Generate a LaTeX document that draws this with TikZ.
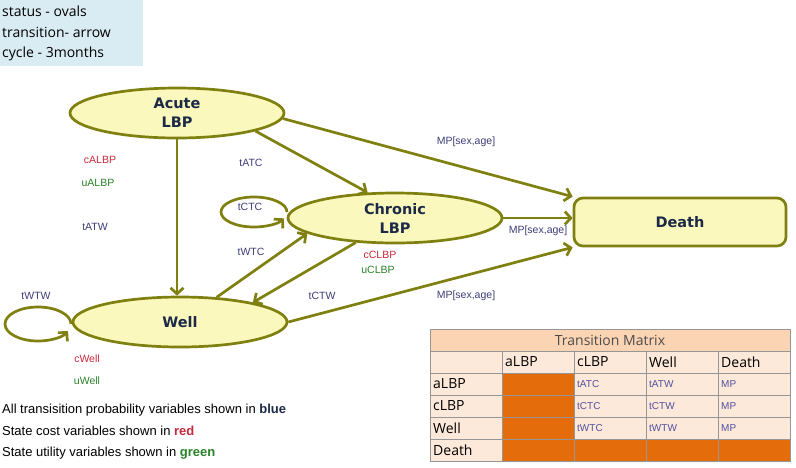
\documentclass[tikz,border=0pt]{standalone}
\usepackage{fontspec}
\setmainfont{Liberation Sans}
\newfontfamily\kfont{Open Sans}
\newfontfamily\hvfont{DejaVu Sans}
\usetikzlibrary{shapes.geometric,arrows.meta}
\definecolor{olivec}{RGB}{128,128,16}
\definecolor{stfill}{RGB}{250,248,188}
\definecolor{navyc}{RGB}{28,42,72}
\definecolor{tblue}{RGB}{60,60,120}
\definecolor{tred}{RGB}{200,40,60}
\definecolor{tgreen}{RGB}{40,130,40}
\definecolor{boxblue}{RGB}{218,236,243}
\definecolor{peach}{RGB}{251,212,180}
\definecolor{cellc}{RGB}{253,233,217}
\definecolor{orng}{RGB}{228,108,10}
\definecolor{gridc}{RGB}{150,150,150}
\definecolor{cellblue}{RGB}{80,80,160}
\tikzset{
  statenode/.style={ellipse, draw=olivec, fill=stfill, line width=2.7pt,
    minimum width=214pt, minimum height=50pt, inner sep=0pt,
    font=\hvfont\bfseries\fontsize{14.5}{19}\selectfont, text=navyc, align=center},
  deathnode/.style={rectangle, rounded corners=9pt, draw=olivec, fill=stfill, line width=2.7pt,
    minimum width=212pt, minimum height=48pt, inner sep=0pt,
    font=\hvfont\bfseries\fontsize{14.5}{19}\selectfont, text=navyc},
  conn/.style={draw=olivec, line width=2.7pt, -{Straight Barb[length=6pt,width=13pt]}},
  lbl/.style={font=\fontsize{10.5}{12}\selectfont, text=tblue, inner sep=0pt},
  costl/.style={font=\fontsize{10.5}{12}\selectfont, text=tred, inner sep=0pt},
  utill/.style={font=\fontsize{10.5}{12}\selectfont, text=tgreen, inner sep=0pt},
  noteline/.style={font=\kfont\fontsize{14}{16}\selectfont, anchor=west, inner sep=0pt},
  legline/.style={font=\fontsize{13}{15}\selectfont, anchor=west, inner sep=0pt},
  hdr/.style={font=\kfont\fontsize{14}{16}\selectfont, anchor=west, inner sep=0pt},
  cellt/.style={font=\fontsize{10}{12}\selectfont, text=cellblue, anchor=west, inner sep=0pt}
}
\begin{document}
\begin{tikzpicture}[x=1pt,y=-1pt]
\useasboundingbox (0,0) rectangle (796,467);

% note box
\fill[boxblue] (0,0) rectangle (143,66);
\node[noteline] (n1) at (2,11) {status - ovals};
\node[noteline] (n2) at (2,32) {transition- arrow};
\node[noteline] (n3) at (2,54) {cycle - 3months};

% states
\node[statenode] (acute) at (177,113) {Acute\\LBP};
\node[statenode] (chronic) at (395,218) {Chronic\\LBP};
\node[statenode] (well) at (180,322) {Well};
\node[deathnode] (death) at (680,222) {Death};

% self loops
\coordinate (ctc) at (254,212);
\coordinate (wtw) at (38,324);
\draw[conn] (ctc) ++(33,0) arc[start angle=0, end angle=335, x radius=33pt, y radius=15pt];
\draw[conn] (wtw) ++(33,0) arc[start angle=0, end angle=335, x radius=33pt, y radius=17pt];

% transitions
\draw[conn] (acute.-3) -- (death.north west);
\draw[conn] (acute.-13) -- (chronic.137);
\draw[conn] (acute.south) -- (acute.south |- well.north);
\draw[conn] (chronic.east) -- (chronic.east -| death.west);
\draw[conn] (well.34) -- (chronic.190);
\draw[conn] (chronic.212) -- (well.15);
\draw[conn] (well.east) -- (death.south west);

% labels
\node[lbl] (l1) at (466,142) {MP[sex,age]};
\node[lbl] (l2) at (538,231) {MP[sex,age]};
\node[lbl] (l3) at (466,296) {MP[sex,age]};
\node[lbl] (l4) at (251,163) {tATC};
\node[lbl] (l5) at (250,207) {tCTC};
\node[lbl] (l6) at (251,252) {tWTC};
\node[lbl] (l7) at (322,296) {tCTW};
\node[lbl] (l8) at (95,227) {tATW};
\node[lbl] (l9) at (36,296) {tWTW};
\node[costl] (c1) at (100,160) {cALBP};
\node[utill] (u1) at (98,183) {uALBP};
\node[costl] (c2) at (380,255) {cCLBP};
\node[utill] (u2) at (378,270) {uCLBP};
\node[costl] (c3) at (87,359) {cWell};
\node[utill] (u3) at (87,381) {uWell};

% legend
\node[legline] (g1) at (2,410) {All transisition probability variables shown in \textcolor{navyc}{\textbf{blue}}};
\node[legline] (g2) at (2,431) {State cost variables shown in \textcolor{tred}{\textbf{red}}};
\node[legline] (g3) at (2,453) {State utility variables shown in \textcolor{tgreen}{\textbf{green}}};

% transition matrix
\fill[peach] (430,329) rectangle (790,351);
\fill[cellc] (430,351) rectangle (790,461);
\fill[orng] (502,373) rectangle (574,461);
\fill[orng] (574,439) rectangle (790,461);
\draw[gridc, line width=0.8pt] (430,329) rectangle (790,461);
\foreach \yy in {351,373,395,417,439} \draw[gridc, line width=0.8pt] (430,\yy) -- (790,\yy);
\foreach \xx in {502,574,646,718} \draw[gridc, line width=0.8pt] (\xx,351) -- (\xx,461);
\node[font=\kfont\fontsize{14}{16}\selectfont, text=black!70, inner sep=0pt] (tt) at (610,340) {Transition Matrix};
\node[hdr] (h1) at (505,362) {aLBP};
\node[hdr] (h2) at (577,362) {cLBP};
\node[hdr] (h3) at (649,362) {Well};
\node[hdr] (h4) at (721,362) {Death};
\node[hdr] (r1) at (433,384) {aLBP};
\node[hdr] (r2) at (433,406) {cLBP};
\node[hdr] (r3) at (433,428) {Well};
\node[hdr] (r4) at (433,450) {Death};
\node[cellt] (m11) at (577,384) {tATC};
\node[cellt] (m12) at (649,384) {tATW};
\node[cellt] (m13) at (721,384) {MP};
\node[cellt] (m21) at (577,406) {tCTC};
\node[cellt] (m22) at (649,406) {tCTW};
\node[cellt] (m23) at (721,406) {MP};
\node[cellt] (m31) at (577,428) {tWTC};
\node[cellt] (m32) at (649,428) {tWTW};
\node[cellt] (m33) at (721,428) {MP};
\end{tikzpicture}
\end{document}
